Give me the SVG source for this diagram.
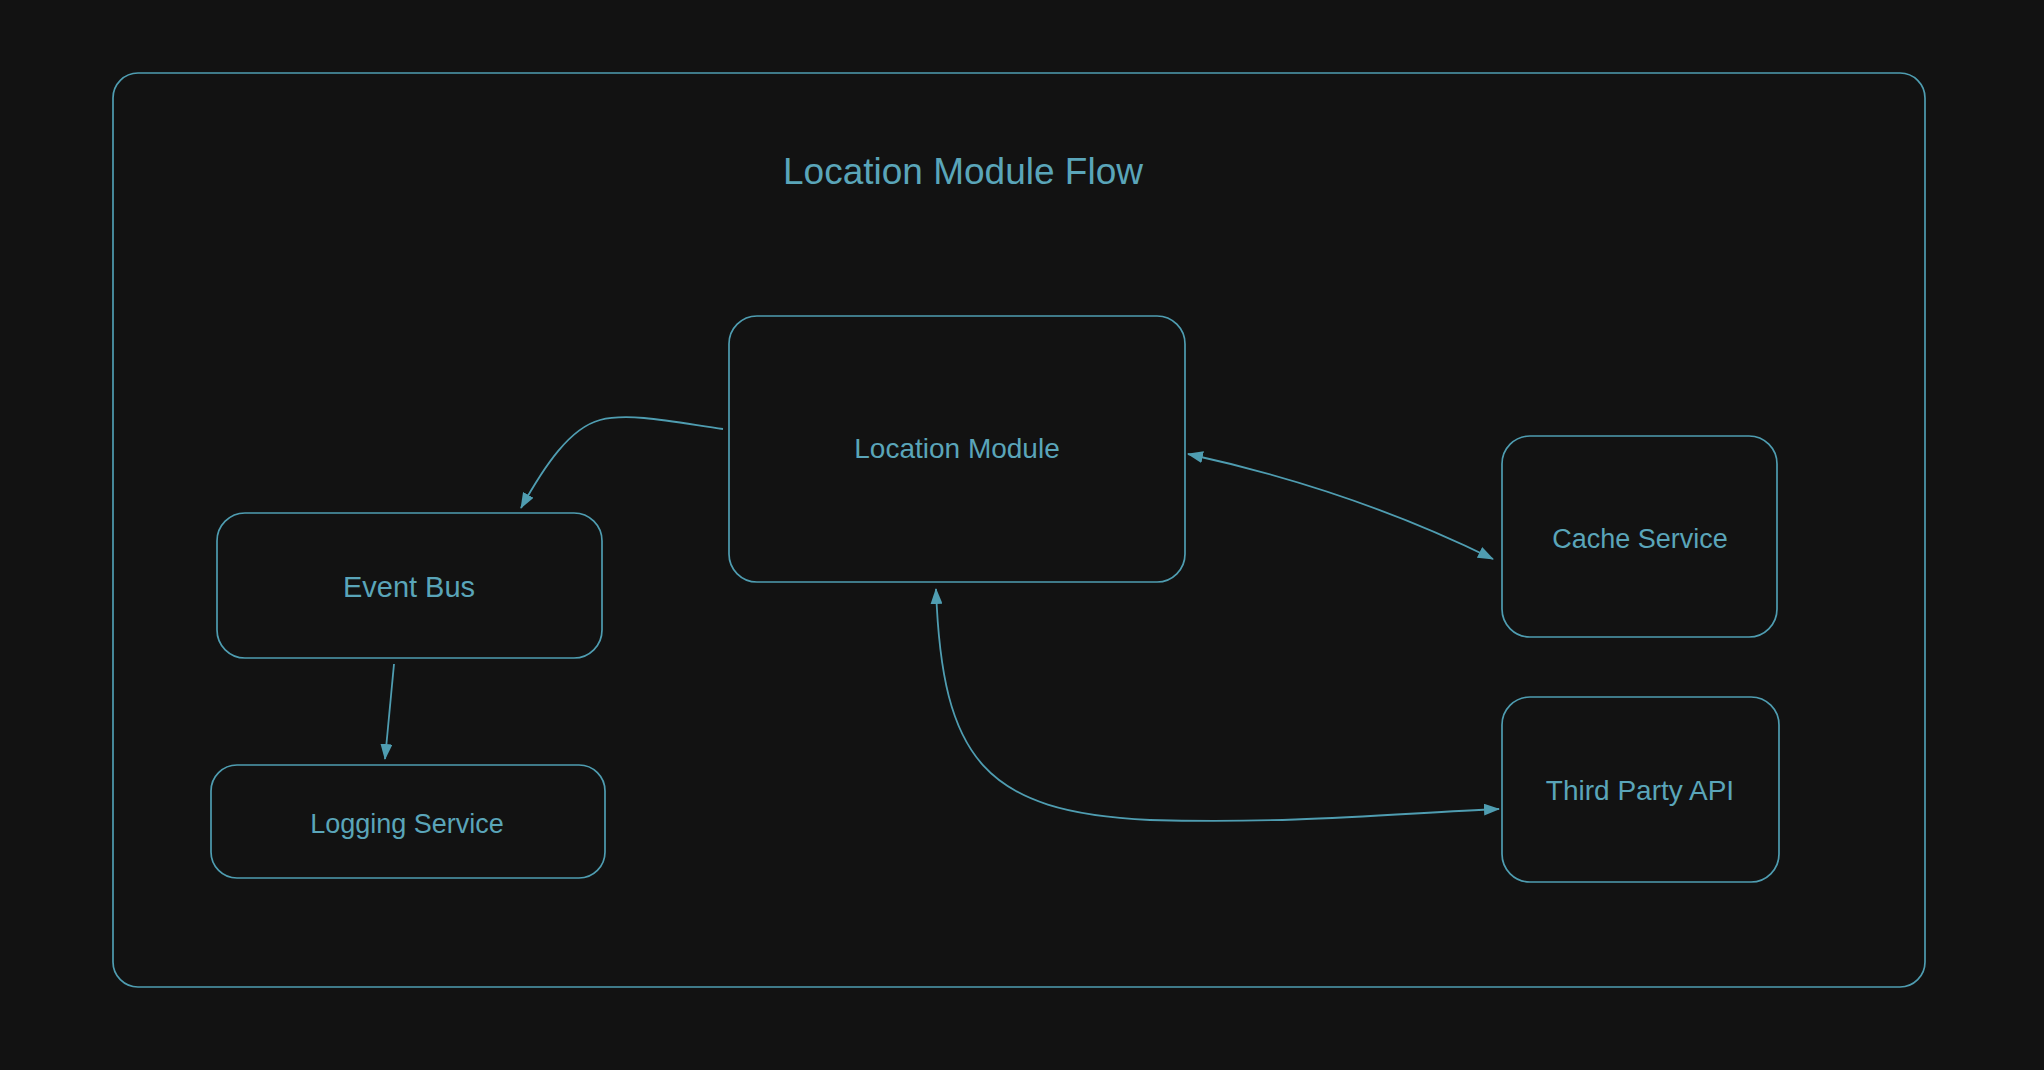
<svg xmlns="http://www.w3.org/2000/svg" width="2044" height="1070" viewBox="0 0 2044 1070">
<defs>
<style>
.bg{fill:#121212}
.box{fill:none;stroke:#4f9db1;stroke-width:1.7}
.conn{fill:none;stroke:#4f9db1;stroke-width:1.8}
.lbl{font-family:"Liberation Sans",Arial,sans-serif;fill:#5aa5b9;text-anchor:middle}
</style>
<marker id="ah" viewBox="0 0 16 12" refX="15" refY="6" markerWidth="16" markerHeight="12" markerUnits="userSpaceOnUse" orient="auto-start-reverse">
<path d="M0,0 L16,6 L0,12 z" fill="#4f9db1"/>
</marker>
</defs>
<rect class="bg" x="0" y="0" width="2044" height="1070"/>
<g id="frame">
<rect class="box" x="113" y="73" width="1812" height="914" rx="25"/>
<text class="lbl" x="963" y="184" font-size="37">Location Module Flow</text>
</g>
<g id="connectors">
<path class="conn" d="M723 429 C680 423 630 412 600 420 C570 428 545 465 521 508" marker-end="url(#ah)"/>
<path class="conn" d="M394 664 L385 759" marker-end="url(#ah)"/>
<path class="conn" d="M1188 454 Q1353 490 1493 559" marker-start="url(#ah)" marker-end="url(#ah)"/>
<path class="conn" d="M936 589 C942 760 985 812 1150 820 C1300 824 1400 813 1499 809" marker-start="url(#ah)" marker-end="url(#ah)"/>
</g>
<g id="location-module">
<rect class="box" x="729" y="316" width="456" height="266" rx="28"/>
<text class="lbl" x="957" y="458" font-size="28">Location Module</text>
</g>
<g id="event-bus">
<rect class="box" x="217" y="513" width="385" height="145" rx="28"/>
<text class="lbl" x="409" y="597" font-size="29">Event Bus</text>
</g>
<g id="logging-service">
<rect class="box" x="211" y="765" width="394" height="113" rx="26"/>
<text class="lbl" x="407" y="833" font-size="27">Logging Service</text>
</g>
<g id="cache-service">
<rect class="box" x="1502" y="436" width="275" height="201" rx="28"/>
<text class="lbl" x="1640" y="548" font-size="27">Cache Service</text>
</g>
<g id="third-party-api">
<rect class="box" x="1502" y="697" width="277" height="185" rx="28"/>
<text class="lbl" x="1640" y="800" font-size="28">Third Party API</text>
</g>
</svg>
